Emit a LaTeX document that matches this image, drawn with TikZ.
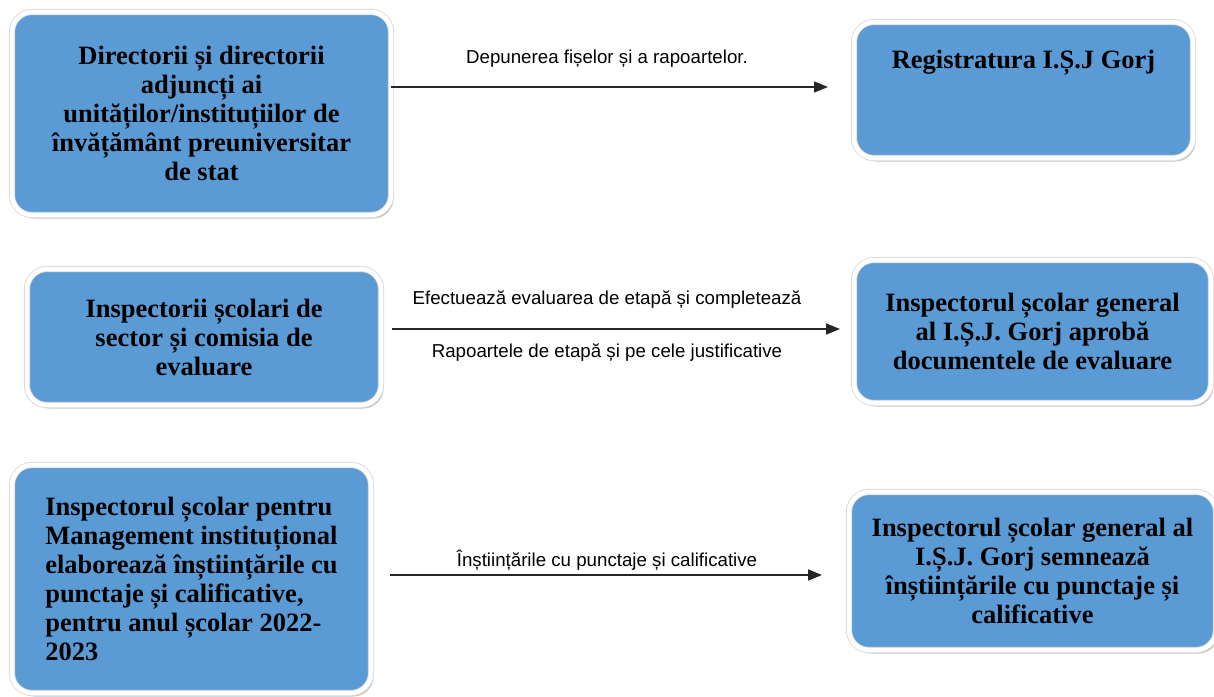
\documentclass[tikz,border=0pt]{standalone}
\usepackage{fontspec}
\setmainfont{Liberation Serif}
\newfontfamily\lblfont{Liberation Sans}
\usetikzlibrary{shadows,arrows.meta}
\definecolor{boxblue}{RGB}{91,155,213}
\definecolor{rimgray}{RGB}{215,215,215}
\tikzset{
  box/.style={rounded corners=20pt, fill=boxblue, draw=rimgray, double=white,
    double distance=4.5pt, line width=0.8pt, inner sep=0pt,
    drop shadow={shadow xshift=2.5pt, shadow yshift=-3.5pt, fill=black!45, opacity=0.5},
    font=\fontsize{26.5}{29}\selectfont\bfseries},
  lbl/.style={font=\lblfont\fontsize{18.7}{21}\selectfont, inner sep=0pt},
  arr/.style={draw=black!85, line width=1.6pt, -{Triangle[length=14pt,width=11pt]}}
}
\begin{document}
\begin{tikzpicture}[x=1pt,y=-1pt]
\useasboundingbox (0,0) rectangle (1214,696);
% boxes
\node[box, minimum width=379pt, minimum height=203pt, align=center] (d1) at (201.5,113.5)
  {Directorii și directorii\\adjuncți ai\\unităților/instituțiilor de\\învățământ preuniversitar\\de stat};
\node[box, minimum width=339pt, minimum height=136pt,
  label={[anchor=north, yshift=-28pt, font=\fontsize{26.5}{29}\selectfont\bfseries, inner sep=0pt]north:Registratura I.Ș.J Gorj}] (r1) at (1023.5,90) {};
\node[box, minimum width=354pt, minimum height=136pt, align=center] (i1) at (204,337)
  {Inspectorii școlari de\\sector și comisia de\\evaluare};
\node[box, minimum width=357pt, minimum height=143pt, align=center] (g1) at (1032.5,331.5)
  {Inspectorul școlar general\\al I.Ș.J. Gorj aprobă\\documentele de evaluare};
\node[box, minimum width=359pt, minimum height=228pt, align=left] (m1) at (191.5,579)
  {Inspectorul școlar pentru\\Management instituțional\\elaborează înștiințările cu\\punctaje și calificative,\\pentru anul școlar 2022-\\2023};
\node[box, minimum width=367pt, minimum height=158pt, align=center] (g2) at (1032.5,571)
  {Inspectorul școlar general al\\I.Ș.J. Gorj semnează\\înștiințările cu punctaje și\\calificative};
% arrow ends
\coordinate (t1) at (828,87);
\coordinate (t2) at (840,329);
\coordinate (t3) at (822,575);
\draw[arr] (d1.east |- t1) -- (t1);
\draw[arr, shorten <=11pt] (i1.east |- t2) -- (t2);
\draw[arr, shorten <=19pt] (m1.east |- t3) -- (t3);
% labels
\node[lbl] (l1) at (607,58.5) {Depunerea fișelor și a rapoartelor.};
\node[lbl] (l2) at (607,300) {Efectuează evaluarea de etapă și completează};
\node[lbl] (l3) at (607,352.5) {Rapoartele de etapă și pe cele justificative};
\node[lbl] (l4) at (607,560) {Înștiințările cu punctaje și calificative};
\end{tikzpicture}
\end{document}
